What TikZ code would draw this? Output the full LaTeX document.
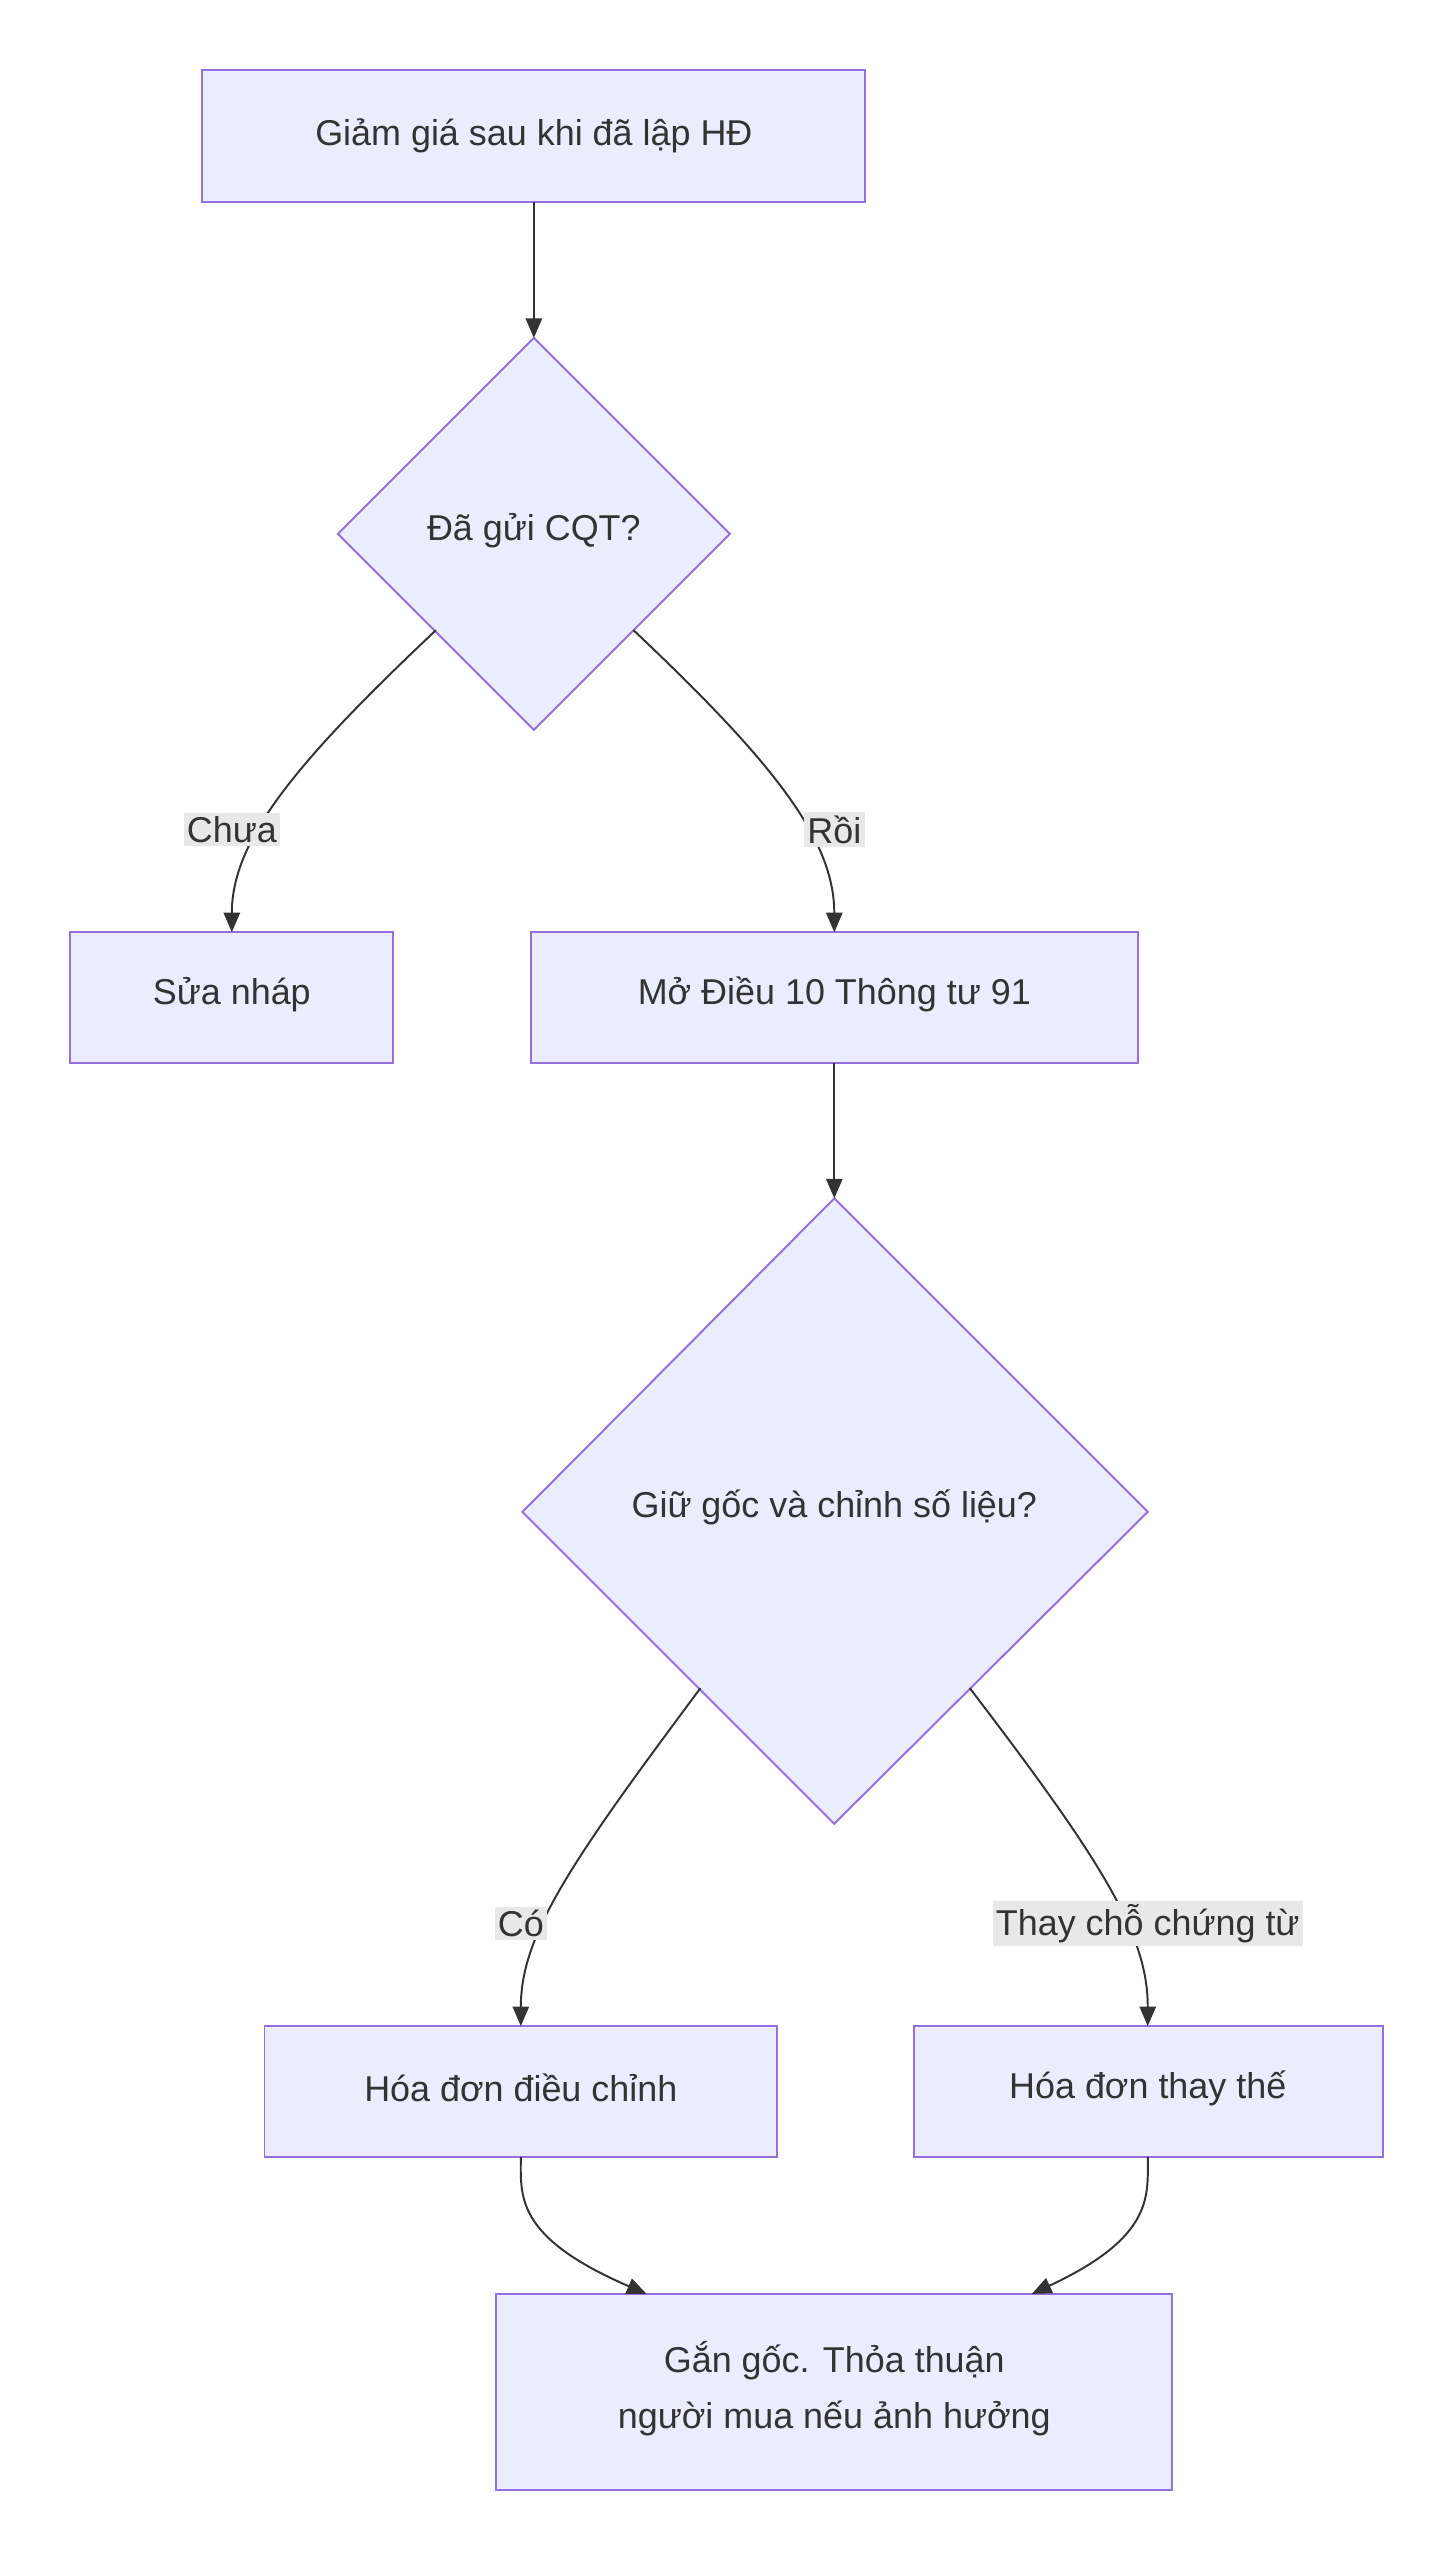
\documentclass[tikz,border=0pt]{standalone}
\usepackage{fontspec}
\setmainfont{Liberation Sans}
\usetikzlibrary{arrows.meta}
\definecolor{nf}{HTML}{ECECFF}\definecolor{ns}{HTML}{9370DB}\definecolor{tx}{HTML}{333333}\definecolor{lb}{HTML}{E8E8E8}
\begin{document}
\begin{tikzpicture}[x=1pt,y=-1pt,
 box/.style={draw=ns,fill=nf,line width=1.2pt,text=tx,font=\fontsize{22}{34}\selectfont,align=center},
 el/.style={draw=tx,line width=1.2pt,-{Triangle[length=12pt,width=10pt]}},
 lab/.style={fill=lb,text=tx,font=\fontsize{22}{26}\selectfont,inner sep=2pt}]
\useasboundingbox (0,0) rectangle (890,1568);
\fill[white] (0,0) rectangle (890,1568);
\draw[box] (124,43) rectangle (530,124);
\node[box,draw=none,fill=none] (A) at (327,83) {Giảm giá sau khi đã lập HĐ};
\coordinate (Ab) at (327,124);
\draw[box] (327,207)--(447,327)--(327,447)--(207,327)--cycle;
\node[box,draw=none,fill=none] (D1) at (327,325) {Đã gửi CQT?};
\coordinate (D1t) at (327,207);
\draw[box] (43,571) rectangle (241,651);
\node[box,draw=none,fill=none] (B) at (142,609) {Sửa nháp};
\draw[box] (325,571) rectangle (697,651);
\node[box,draw=none,fill=none] (C) at (511,609) {Mở Điều 10 Thông tư 91};
\draw[box] (511,734)--(703,926)--(511,1117)--(320,926)--cycle;
\node[box,draw=none,fill=none] (D2) at (511,923) {Giữ gốc và chỉnh số liệu?};
\draw[box] (162,1241) rectangle (476,1321);
\node[box,draw=none,fill=none] (E) at (319,1279) {Hóa đơn điều chỉnh};
\draw[box] (560,1241) rectangle (847,1321);
\node[box,draw=none,fill=none] (F) at (703,1279) {Hóa đơn thay thế};
\draw[box] (304,1405) rectangle (718,1525);
\node[box,draw=none,fill=none] (G) at (511,1463) {Gắn gốc. Thỏa thuận\\người mua nếu ảnh hưởng};
\coordinate (c1) at (267,386);\coordinate (c2) at (388,386);
\coordinate (Bt) at (142,571);\coordinate (Ct) at (511,571);
\coordinate (Cb) at (511,651);\coordinate (D2t) at (511,734);
\coordinate (d1) at (429,1034);\coordinate (d2) at (594,1034);
\coordinate (Et) at (319,1241);\coordinate (Ft) at (703,1241);
\coordinate (Eb) at (319,1321);\coordinate (Fb) at (703,1321);
\coordinate (G1) at (396,1405);\coordinate (G2) at (632,1405);
\draw[el] (Ab)--(D1t);
\draw[el] (c1) .. controls (180,468) and (142,515) .. (Bt);
\draw[el] (c2) .. controls (475,468) and (511,515) .. (Ct);
\draw[el] (Cb)--(D2t);
\draw[el] (d1) .. controls (350,1140) and (319,1185) .. (Et);
\draw[el] (d2) .. controls (675,1140) and (703,1185) .. (Ft);
\draw[el] (Eb) .. controls (319,1345) and (315,1370) .. (G1);
\draw[el] (Fb) .. controls (703,1345) and (707,1370) .. (G2);
\node[lab] (l1) at (142,508) {Chưa};
\node[lab] (l2) at (511,508) {Rồi};
\node[lab] (l3) at (319,1178) {Có};
\node[lab] (l4) at (703,1178) {Thay chỗ chứng từ};
\end{tikzpicture}
\end{document}
